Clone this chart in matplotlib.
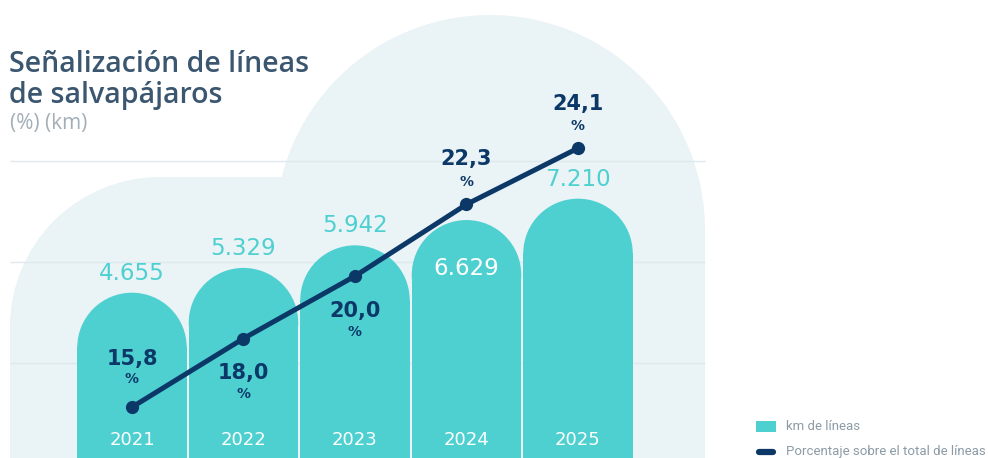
import matplotlib.pyplot as plt
from matplotlib.patches import Circle, Rectangle, Ellipse
from matplotlib.lines import Line2D

# ── data ─────────────────────────────────────────────────────────────────────
years = ["2021", "2022", "2023", "2024", "2025"]
km_lineas = [4655, 5329, 5942, 6629, 7210]
km_labels = ["4.655", "5.329", "5.942", "6.629", "7.210"]
pct_total = [15.8, 18.0, 20.0, 22.3, 24.1]
pct_labels = ["15,8", "18,0", "20,0", "22,3", "24,1"]

# ── style ────────────────────────────────────────────────────────────────────
TEAL = "#4ED0D1"
NAVY = "#0C3868"
BG = "#EAF3F5"
GRID = "#DDE9EC"
TITLE = "#3B5770"
GREY = "#8C9BA6"

W, H = 988, 458
fig = plt.figure(figsize=(W / 100, H / 100), dpi=100)

# background decoration, drawn in pixel coordinates
bg = fig.add_axes([0, 0, 1, 1])
bg.set_xlim(0, W)
bg.set_ylim(H, 0)
bg.axis("off")
for p in [
    Rectangle((10, 327), 200, H), Rectangle((160, 177), 200, H),
    Circle((160, 327), 150),
    Circle((490, 230), 215), Rectangle((275, 230), 430, H),
]:
    p.set_facecolor(BG)
    p.set_edgecolor("none")
    bg.add_patch(p)
bg.hlines([161, 262, 363], 10, 705, color=GRID, lw=1, zorder=2)

# title block
bg.text(9, 64, "Señalización de líneas", fontsize=20.5, fontweight="semibold",
        family="Open Sans", color=TITLE, va="center")
bg.text(9, 95, "de salvapájaros", fontsize=20.5, fontweight="semibold",
        family="Open Sans", color=TITLE, va="center")
bg.text(10, 123, "(%) (km)", fontsize=15, family="Open Sans", color="#A3AEB6",
        va="center")

# legend
bg.add_patch(Rectangle((756, 421), 20, 11, facecolor=TEAL, edgecolor="none"))
bg.add_line(Line2D([759, 773], [452, 452], color=NAVY, lw=4.5,
                   solid_capstyle="round"))
bg.text(786, 426, "km de líneas", fontsize=9.5, family="Roboto", color=GREY,
        va="center")
bg.text(786, 452, "Porcentaje sobre el total de líneas", fontsize=9.5,
        family="Roboto", color=GREY, va="center")

# ── bars (km) ────────────────────────────────────────────────────────────────
x0, x1 = 10, 705
ax = fig.add_axes([x0 / W, 0, (x1 - x0) / W, 1])
ax.patch.set_alpha(0)
ax.axis("off")
ax.set_xlim(-1.094, 5.139)
ax.set_ylim(163, 12609)

xs = list(range(len(years)))
bw = 0.982
px_per_x = (x1 - x0) / (5.139 + 1.094)
px_per_km = H / (12609 - 163)
r_km = (bw / 2) * px_per_x / px_per_km

ax.bar(xs, [v - r_km for v in km_lineas], width=bw, color=TEAL, zorder=3)
for x, v in zip(xs, km_lineas):
    ax.add_patch(Ellipse((x, v - r_km), bw, 2 * r_km, facecolor=TEAL,
                         edgecolor="none", zorder=3))

for i, (x, v, lab) in enumerate(zip(xs, km_lineas, km_labels)):
    if i == 3:
        ax.annotate(lab, (x, v), xytext=(0, -35), textcoords="offset points",
                    ha="center", va="center", fontsize=16.5, family="DejaVu Sans",
                    color="white", zorder=6)
    else:
        ax.annotate(lab, (x, v), xytext=(0, 14), textcoords="offset points",
                    ha="center", va="center", fontsize=16.5, family="DejaVu Sans",
                    color=TEAL, zorder=6)

for x, y in zip(xs, years):
    ax.text(x, 163 + 18 / px_per_km, y, ha="center", va="center", fontsize=13,
            family="DejaVu Sans", color="white", zorder=6)

# ── line (%) ─────────────────────────────────────────────────────────────────
ax2 = ax.twinx()
ax2.axis("off")
ax2.set_ylim(14.17, 28.85)
ax2.plot(xs, pct_total, color=NAVY, lw=3.6, marker="o", ms=8.5, zorder=5,
         solid_capstyle="round")

# label offsets in points (value line, % sign line)
offsets = [(35, 20), (-25, -40), (-25, -40), (33, 16), (32, 16)]
for x, v, lab, (o1, o2) in zip(xs, pct_total, pct_labels, offsets):
    ax2.annotate(lab, (x, v), xytext=(0, o1), textcoords="offset points",
                 ha="center", va="center", fontsize=15, fontweight="bold",
                 family="DejaVu Sans", color=NAVY, zorder=6)
    ax2.annotate("%", (x, v), xytext=(0, o2), textcoords="offset points",
                 ha="center", va="center", fontsize=10, fontweight="bold",
                 family="DejaVu Sans", color=NAVY, zorder=6)

fig.savefig("out.png", dpi=100)
